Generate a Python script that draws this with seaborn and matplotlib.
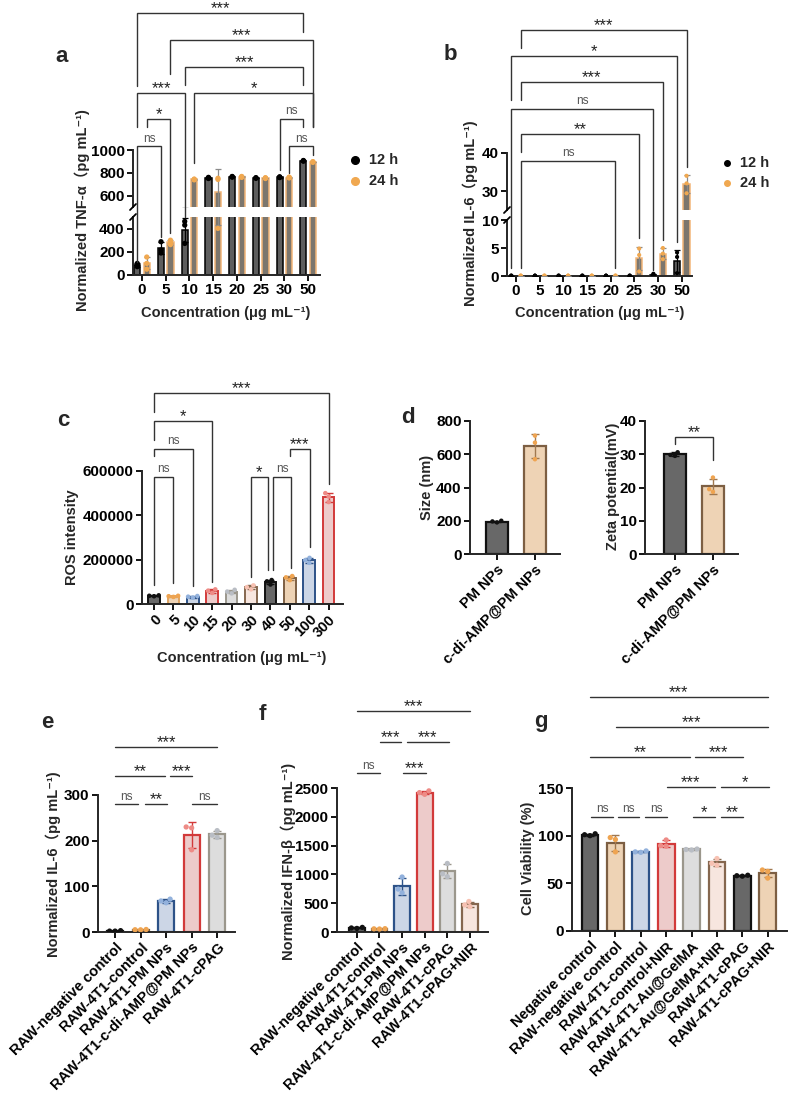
import numpy as np
import pandas as pd
import matplotlib
matplotlib.use('Agg')
import matplotlib.pyplot as plt
from matplotlib.lines import Line2D
import seaborn as sns

# ===================== data =====================
a_conc = ['0', '5', '10', '15', '20', '25', '30', '50']
a_tnf_12h = [[100, 85, 72], [287, 215, 190], [462, 430, 272], [760, 755, 750],
             [768, 765, 762], [757, 755, 752], [765, 762, 758], [908, 905, 902]]
a_tnf_24h = [[155, 100, 50], [300, 280, 262], [742, 745, 738], [752, 402, 742],
             [768, 764, 760], [757, 754, 750], [762, 759, 755], [898, 895, 892]]
# (x1, x2, y, leg1 end, leg2 end, label)  x = group index -/+ 0.2 for 12 h / 24 h
a_sig = [(-0.2, 6.8, 2204, 1561, 2032, '***'),
         (1.2, 7.2, 1965, 1667, 1202, '***'),
         (1.8, 6.8, 1730, 1570, 1570, '***'),
         (-0.2, 1.8, 1497, 1202, 498, '***'),
         (2.2, 7.2, 1497, 886, 1202, '*'),
         (0.2, 1.2, 1272, 1202, 362, '*'),
         (-0.2, 0.8, 1035, 112, 328, 'ns'),
         (5.8, 6.8, 1272, 825, 1202, 'ns'),
         (6.2, 7.2, 1035, 798, 956, 'ns')]

b_conc = ['0', '5', '10', '15', '20', '25', '30', '50']
b_il6_12h = [[0.05, 0.05, 0.05], [0.05, 0.05, 0.05], [0.05, 0.05, 0.05], [0.05, 0.05, 0.05],
             [0.05, 0.05, 0.05], [0.05, 0.05, 0.05], [0.4, 0.25, 0.1], [4.2, 3.4, 0.5]]
b_il6_24h = [[0.05, 0.05, 0.05], [0.05, 0.05, 0.05], [0.05, 0.05, 0.05], [0.05, 0.05, 0.05],
             [0.05, 0.05, 0.05], [4.9, 3.75, 0.8], [5.0, 4.0, 3.0], [34.0, 32.0, 29.4]]
b_sig = [(0.2, 7.2, 72.4, 67.6, 36.3, '***'),
         (-0.2, 6.8, 65.6, 54.0, 6.1, '*'),
         (0.2, 6.2, 58.6, 54.0, 6.4, '***'),
         (-0.2, 5.8, 51.6, 1.4, 1.0, 'ns'),
         (0.2, 5.2, 45.0, 40.3, 6.8, '**'),
         (0.2, 4.2, 38.0, 1.4, 1.4, 'ns')]

c_conc = ['0', '5', '10', '15', '20', '30', '40', '50', '100', '300']
c_ros = [[39000, 37000, 35000], [37000, 35000, 32000], [36000, 33000, 29000],
         [66000, 60000, 50000], [64000, 56000, 48000], [84000, 76000, 66000],
         [108000, 102000, 88000], [126000, 120000, 108000], [208000, 198000, 186000],
         [500000, 485000, 460000]]
c_sig = [(0, 9, 952700, 866900, 541800, '***'),
         (0, 3, 826000, 740000, 99300, '*'),
         (0, 2, 700000, 669600, 81000, 'ns'),
         (0, 1, 573400, 85800, 94800, 'ns'),
         (5, 5.86, 573400, 123000, 153500, '*'),
         (6.15, 7.05, 573400, 153500, 162500, 'ns'),
         (7.0, 8.04, 700000, 669600, 258700, '***')]

d_groups = ['PM NPs', 'c-di-AMP@PM NPs']
d_size = [[190, 200, 196], [712, 670, 570]]
d_zeta = [[29.5, 30.6, 29.8], [23.0, 19.5, 18.7]]
d_sig = [(0, 1, 35.2, 33.1, 28.3, '**')]

e_groups = ['RAW-negative control', 'RAW-4T1-control', 'RAW-4T1-PM NPs',
            'RAW-4T1-c-di-AMP@PM NPs', 'RAW-4T1-cPAG']
e_il6 = [[2, 3, 2], [5.5, 5, 4.8], [72, 68, 64], [230, 228, 180], [222, 212, 207]]
e_sig = [(0, 4, 405, '***'), (0, 1.96, 342, '**'), (2.16, 3.02, 342, '***'),
         (0, 0.9, 280, 'ns'), (1.18, 2.04, 280, '**'), (3.02, 4.0, 280, 'ns')]

f_groups = ['RAW-negative control', 'RAW-4T1-control', 'RAW-4T1-PM NPs',
            'RAW-4T1-c-di-AMP@PM NPs', 'RAW-4T1-cPAG', 'RAW-4T1-cPAG+NIR']
f_ifn = [[80, 70, 62], [58, 55, 52], [955, 745, 680], [2450, 2420, 2390],
         [1190, 1010, 960], [530, 470, 440]]
f_sig = [(0, 5.0, 3837, '***'), (1.02, 1.95, 3298, '***'), (2.2, 4.07, 3298, '***'),
         (0, 1.02, 2760, 'ns'), (2.04, 3.05, 2760, '***')]

g_groups = ['Negative control', 'RAW-negative control', 'RAW-4T1-control',
            'RAW-4T1-control+NIR', 'RAW-4T1-Au@GelMA', 'RAW-4T1-Au@GelMA+NIR',
            'RAW-4T1-cPAG', 'RAW-4T1-cPAG+NIR']
g_via = [[102, 101, 100], [98, 96, 83], [84, 83, 82.5], [95.5, 89.5, 89],
         [86, 85.5, 85], [76, 71, 69], [58.5, 58, 57.5], [64, 62.5, 55.5]]
g_sig = [(0, 7, 245.5, '***'), (1.02, 7, 214, '***'), (0, 3.94, 182.5, '**'),
         (4.13, 6.02, 182.5, '***'), (3.03, 4.92, 151, '***'), (5.16, 7.05, 151, '*'),
         (0.04, 0.9, 119.6, 'ns'), (1.1, 1.93, 119.6, 'ns'), (2.17, 3.03, 119.6, 'ns'),
         (4.05, 4.92, 119.6, '*'), (5.16, 6.02, 119.6, '**')]

# ===================== styles =====================
K = dict(fill='#686868', edge='#111111', pt='#111111', err='#111111')
O = dict(fill='#f7d4ac', edge='#7d5f43', pt='#efa451', err='#a07850')
Oc = dict(fill='#f7d4ac', edge='#dfa461', pt='#efa451', err='#dfa461')
B = dict(fill='#c8d5ea', edge='#2d5288', pt='#92b1dc', err='#2d5288')
R = dict(fill='#f3c5c4', edge='#d23a3a', pt='#ee8b86', err='#d23a3a')
G = dict(fill='#dddddd', edge='#9b978c', pt='#b9bdc4', err='#9b978c')
P = dict(fill='#fbe4db', edge='#85674f', pt='#f7c1b2', err='#85674f')
FILL12, EDGE12, PT12, ERR12 = '#5e5e5e', '#000000', '#000000', '#000000'
FILL24, EDGE24, PT24, ERR24 = '#7f766a', '#f2b578', '#f0a850', '#8a8a8a'

sns.set_theme(style='ticks')
plt.rcParams['font.family'] = ['Liberation Sans', 'DejaVu Sans', 'Noto Sans CJK SC']
plt.rcParams['font.weight'] = 'bold'
plt.rcParams['axes.labelweight'] = 'bold'
plt.rcParams['axes.linewidth'] = 1.4

W, H = 789, 1110
fig = plt.figure(figsize=(W / 100, H / 100), dpi=100)
fig.patch.set_facecolor('white')


def add_ax(l, t, r, b):
    return fig.add_axes([l / W, 1 - b / H, (r - l) / W, (b - t) / H])


def fx(px):
    return px / W


def fy(py):
    return 1 - py / H


def to_fig(ax, x, y):
    return fig.transFigure.inverted().transform(ax.transData.transform((x, y)))


LINE_C = '#333333'


def put_label(xf, yf, label):
    if label == 'ns':
        fig.text(xf, yf + 4.5 / H, 'ns', ha='center', va='baseline', fontsize=8.5,
                 color='#555555', fontweight='normal')
    else:
        fig.text(xf, yf + 0.0 / H, label, ha='center', va='baseline', fontsize=12,
                 color='#222222', fontweight='normal')


def bracket(mapper, x1, x2, y, e1, e2, label):
    pts = [mapper(x1, e1), mapper(x1, y), mapper(x2, y), mapper(x2, e2)]
    fig.add_artist(Line2D([p[0] for p in pts], [p[1] for p in pts], transform=fig.transFigure,
                          color=LINE_C, lw=1.0, solid_joinstyle='miter'))
    put_label((pts[1][0] + pts[2][0]) / 2, pts[1][1], label)


def hline(mapper, x1, x2, y, label):
    p1, p2 = mapper(x1, y), mapper(x2, y)
    fig.add_artist(Line2D([p1[0], p2[0]], [p1[1], p2[1]], transform=fig.transFigure,
                          color=LINE_C, lw=1.0))
    put_label((p1[0] + p2[0]) / 2, p1[1], label)


def style_ax(ax, tick_size=11):
    for s in ['top', 'right']:
        ax.spines[s].set_visible(False)
    ax.tick_params(axis='both', which='major', length=4, width=1.3, labelsize=tick_size,
                   direction='out', pad=2, color='black', labelcolor='black')
    for lab in ax.get_xticklabels() + ax.get_yticklabels():
        lab.set_fontweight('bold')
    ax.set_xlabel('')
    ax.set_ylabel('')
    ax.set_facecolor('none')


def grouped_df(cats, r12, r24):
    rows = []
    for c, x1, x2 in zip(cats, r12, r24):
        rows += [{'grp': c, 'time': '12 h', 'val': v} for v in x1]
        rows += [{'grp': c, 'time': '24 h', 'val': v} for v in x2]
    return pd.DataFrame(rows)


def long_df(cats, reps):
    rows = []
    for c, r in zip(cats, reps):
        rows += [{'grp': c, 'val': v} for v in r]
    return pd.DataFrame(rows)


def draw_grouped(ax, cats, r12, r24, pt_size):
    df = grouped_df(cats, r12, r24)
    sns.barplot(data=df, x='grp', y='val', hue='time', order=cats, hue_order=['12 h', '24 h'],
                palette=[FILL12, FILL24], width=0.8, gap=0.35, errorbar=None, legend=False,
                linewidth=1.1, ax=ax)
    for p in ax.patches:
        c = p.get_x() + p.get_width() / 2
        p.set_edgecolor(EDGE12 if c < round(c) else EDGE24)
    for i in range(len(cats)):
        for k, reps in enumerate([r12[i], r24[i]]):
            ax.errorbar(i + (-0.2 if k == 0 else 0.2), np.mean(reps), yerr=np.std(reps, ddof=1),
                        fmt='none', ecolor=[ERR12, ERR24][k], elinewidth=0.9, capsize=2,
                        capthick=0.9, zorder=3)
    sns.stripplot(data=df, x='grp', y='val', hue='time', order=cats, hue_order=['12 h', '24 h'],
                  palette=[PT12, PT24], dodge=True, jitter=False, size=pt_size, linewidth=0,
                  legend=False, ax=ax, zorder=4)


def draw_simple(ax, cats, reps, styles, width, pt_size, lw=1.6):
    df = long_df(cats, reps)
    sns.barplot(data=df, x='grp', y='val', hue='grp', order=cats, hue_order=cats,
                palette=[s['fill'] for s in styles], width=width, errorbar=None,
                legend=False, linewidth=lw, ax=ax)
    for p in ax.patches:
        i = int(round(p.get_x() + p.get_width() / 2))
        p.set_edgecolor(styles[i]['edge'])
    for i, r in enumerate(reps):
        ax.errorbar(i, np.mean(r), yerr=np.std(r, ddof=1), fmt='none', ecolor=styles[i]['err'],
                    elinewidth=1.0, capsize=3, capthick=1.0, zorder=3)
    sns.swarmplot(data=df, x='grp', y='val', hue='grp', order=cats, hue_order=cats,
                  palette=[s['pt'] for s in styles], size=pt_size, linewidth=0,
                  legend=False, ax=ax, zorder=4)


def break_marks(x_px, y_top_px, y_bot_px):
    for yp in (y_top_px, y_bot_px):
        fig.add_artist(Line2D([fx(x_px - 3), fx(x_px + 3)], [fy(yp + 3), fy(yp - 3)],
                              transform=fig.transFigure, color='black', lw=1.3))


def rot_labels(ax, cats, size=10.5):
    ax.set_xticks(range(len(cats)))
    ax.set_xticklabels(cats, rotation=45, ha='right', va='top', rotation_mode='anchor',
                       fontsize=size, fontweight='bold')


def ylab(text, x, y, size=10.5):
    fig.text(fx(x), fy(y), text, rotation=90, ha='center', va='center', fontsize=size,
             fontweight='bold')


def letter(ch, x, y):
    fig.text(fx(x), fy(y), ch, ha='center', va='center', fontsize=16, fontweight='bold')


def legend_12_24(x_dot, x_txt, y1, y2, ms):
    for yy, col, lab in [(y1, PT12, '12 h'), (y2, PT24, '24 h')]:
        fig.add_artist(Line2D([fx(x_dot)], [fy(yy)], marker='o', ms=ms, color=col, ls='',
                              transform=fig.transFigure))
        fig.text(fx(x_txt), fy(yy), lab, ha='left', va='center', fontsize=10.5, fontweight='bold')


# ===================== panel a =====================
a_hi = add_ax(133, 150, 320, 207)
a_lo = add_ax(133, 217, 320, 275)
for ax in (a_hi, a_lo):
    draw_grouped(ax, a_conc, a_tnf_12h, a_tnf_24h, 3.8)
    style_ax(ax)
    ax.set_xlim(-0.38, 7.5)
a_hi.set_ylim(500, 1000)
a_hi.set_yticks([600, 800, 1000])
a_hi.spines['bottom'].set_visible(False)
a_hi.tick_params(axis='x', bottom=False, labelbottom=False)
a_lo.set_ylim(0, 500)
a_lo.set_yticks([0, 200, 400])
break_marks(133, 217, 207)


def a_map(x, v):
    return to_fig(a_lo if v <= 500 else a_hi, x, v)


for s in a_sig:
    bracket(a_map, *s)
ylab('Normalized TNF-α（pg mL⁻¹)', 82, 210)
fig.text(fx(226), fy(313), 'Concentration (μg mL⁻¹)', ha='center', va='center',
         fontsize=10.5, fontweight='bold')
legend_12_24(355, 369, 160, 181, 5.5)
letter('a', 62, 56)

# ===================== panel b =====================
b_hi = add_ax(507, 153, 692, 210)
b_lo = add_ax(507, 220, 692, 276)
for ax in (b_hi, b_lo):
    draw_grouped(ax, b_conc, b_il6_12h, b_il6_24h, 3.0)
    style_ax(ax)
    ax.set_xlim(-0.38, 7.43)
b_hi.set_ylim(25, 40)
b_hi.set_yticks([30, 40])
b_hi.spines['bottom'].set_visible(False)
b_hi.tick_params(axis='x', bottom=False, labelbottom=False)
b_lo.set_ylim(0, 10)
b_lo.set_yticks([0, 5, 10])
break_marks(507, 220, 210)


def b_map(x, v):
    return to_fig(b_lo if v <= 10 else b_hi, x, v)


for s in b_sig:
    bracket(b_map, *s)
ylab('Normalized IL-6（pg mL⁻¹)', 470, 213)
fig.text(fx(600), fy(313), 'Concentration (μg mL⁻¹)', ha='center', va='center',
         fontsize=10.5, fontweight='bold')
legend_12_24(727, 740, 163, 183, 4)
letter('b', 450, 54)

# ===================== panel c =====================
c_ax = add_ax(142, 471, 343, 604)
draw_simple(c_ax, c_conc, c_ros, [K, Oc, B, R, G, P, K, O, B, R], 0.6, 3.3, lw=1.4)
style_ax(c_ax)
c_ax.set_xlim(-0.62, 9.74)
c_ax.set_ylim(0, 600000)
c_ax.set_yticks([0, 200000, 400000, 600000])
c_ax.set_yticklabels(['0', '200000', '400000', '600000'], fontweight='bold')
rot_labels(c_ax, c_conc, 10.5)
for s in c_sig:
    bracket(lambda x, v: to_fig(c_ax, x, v), *s)
ylab('ROS intensity', 72, 537)
fig.text(fx(242), fy(658), 'Concentration (μg mL⁻¹)', ha='center', va='center',
         fontsize=10.5, fontweight='bold')
letter('c', 63, 420)

# ===================== panel d =====================
d1 = add_ax(470, 421, 560, 554)
draw_simple(d1, d_groups, d_size, [K, O], 0.6, 3.2)
style_ax(d1)
d1.set_xlim(-0.71, 1.66)
d1.set_ylim(0, 800)
d1.set_yticks([0, 200, 400, 600, 800])
rot_labels(d1, d_groups, 10.5)
ylab('Size (nm)', 427, 487)

d2 = add_ax(645, 421, 738, 554)
draw_simple(d2, d_groups, d_zeta, [K, O], 0.6, 3.2)
style_ax(d2)
d2.set_xlim(-0.79, 1.66)
d2.set_ylim(0, 40)
d2.set_yticks([0, 10, 20, 30, 40])
rot_labels(d2, d_groups, 10.5)
for s in d_sig:
    bracket(lambda x, v: to_fig(d2, x, v), *s)
ylab('Zeta potential(mV)', 613, 486)
letter('d', 408, 418)

# ===================== panel e =====================
e_ax = add_ax(98, 795, 235, 932)
draw_simple(e_ax, e_groups, e_il6, [K, O, B, R, G], 0.63, 3.8)
style_ax(e_ax)
e_ax.set_xlim(-0.67, 4.7)
e_ax.set_ylim(0, 300)
e_ax.set_yticks([0, 100, 200, 300])
rot_labels(e_ax, e_groups, 10.5)
for s in e_sig:
    hline(lambda x, v: to_fig(e_ax, x, v), *s)
ylab('Normalized IL-6（pg mL⁻¹)', 53, 864)
letter('e', 47, 723)

# ===================== panel f =====================
f_ax = add_ax(337, 788, 488, 932)
draw_simple(f_ax, f_groups, f_ifn, [K, O, B, R, G, P], 0.69, 3.8)
style_ax(f_ax)
f_ax.set_xlim(-0.88, 5.8)
f_ax.set_ylim(0, 2500)
f_ax.set_yticks([0, 500, 1000, 1500, 2000, 2500])
rot_labels(f_ax, f_groups, 10.5)
for s in f_sig:
    hline(lambda x, v: to_fig(f_ax, x, v), *s)
ylab('Normalized IFN-β（pg mL⁻¹)', 288, 861)
letter('f', 262, 714)

# ===================== panel g =====================
g_ax = add_ax(572, 788, 787, 931)
draw_simple(g_ax, g_groups, g_via, [K, O, B, R, G, P, K, O], 0.66, 3.8)
style_ax(g_ax)
g_ax.set_xlim(-0.71, 7.76)
g_ax.set_ylim(0, 150)
g_ax.set_yticks([0, 50, 100, 150])
rot_labels(g_ax, g_groups, 10.5)
for s in g_sig:
    hline(lambda x, v: to_fig(g_ax, x, v), *s)
ylab('Cell Viability (%)', 528, 858)
letter('g', 541, 722)

fig.savefig('out.png', dpi=100, facecolor='white')
